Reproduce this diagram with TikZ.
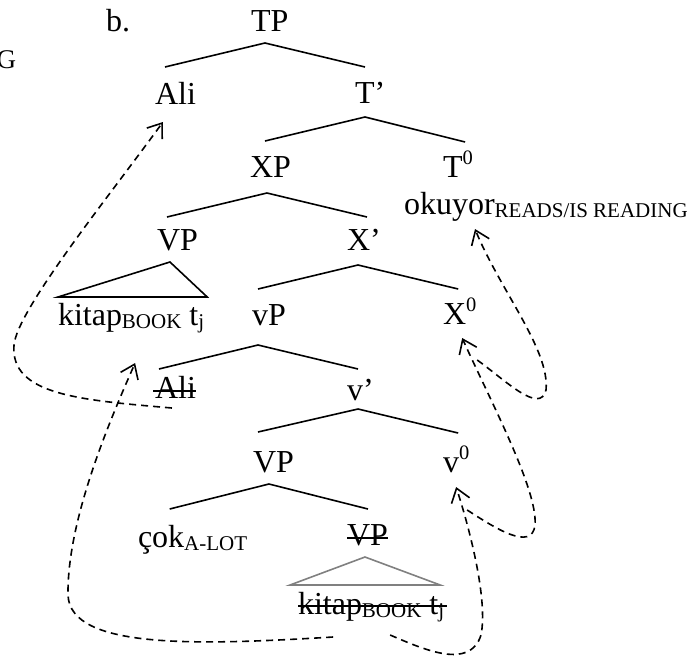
\documentclass[tikz,border=0pt]{standalone}
\usepackage{fontspec}
\setmainfont{Liberation Serif}
\usetikzlibrary{calc,arrows.meta}
\definecolor{trigray}{RGB}{128,128,128}
\newcommand{\sbs}[1]{\raisebox{-3pt}{\fontsize{21}{22}\selectfont #1}}
\newcommand{\sps}[1]{\raisebox{13pt}{\fontsize{20.5}{22}\selectfont #1}}
\begin{document}
\begin{tikzpicture}[x=1pt,y=-1pt,
  lbl/.style={inner sep=0pt, outer sep=0pt, font=\fontsize{32}{38}\selectfont, anchor=base west},
  tree/.style={line width=1.6pt},
  grtree/.style={line width=1.6pt, draw=trigray},
  strike/.style={line width=1.6pt},
  mv/.style={line width=1.6pt, dash pattern=on 7pt off 5pt, -{Straight Barb[length=13pt,width=19pt]}}]
\useasboundingbox (0,0) rectangle (698,662);

% labels
\node[lbl, anchor=base east, font=\fontsize{27}{30}\selectfont] (g) at (16,68) {G};
\node[lbl] (b) at (106,31) {b.};
\node[lbl] (tp) at (251,31) {TP};
\node[lbl] (ali) at (155,104) {Ali};
\node[lbl] (tbar) at (355,103) {T’};
\node[lbl] (xp) at (250,177) {XP};
\node[lbl] (t0) at (443,177) {T\sps{0}};
\node[lbl] (okuyor) at (404,214) {okuyor\sbs{READS/IS READING}};
\node[lbl] (vpa) at (157,250) {VP};
\node[lbl] (xbar) at (347,250) {X’};
\node[lbl] (kitap) at (58,325) {kitap\sbs{BOOK} t\sbs{j}};
\node[lbl] (svp) at (252,325) {vP};
\node[lbl] (x0) at (443,324) {X\sps{0}};
\node[lbl] (ali2) at (155,398) {Ali};
\node[lbl] (vbar) at (347,400) {v’};
\node[lbl] (vpb) at (253,472) {VP};
\node[lbl] (v0) at (443,472) {v\sps{0}};
\node[lbl] (cok) at (138,547) {çok\sbs{A-LOT}};
\node[lbl] (vps) at (347,545) {VP};
\node[lbl] (kitaps) at (298,614) {kitap\sbs{BOOK} t\sbs{j}};

% tree branches
\draw[tree] ($(ali.base)+(-10.5,-37)$) -- ($(tp.base)+(-4.7,12)$) -- ($(tbar.base)+(-5.1,-36)$);
\draw[tree] ($(xp.base)+(-5.5,-36)$) -- ($(tbar.base)+(-5.1,14)$) -- ($(t0.base)+(7.2,-35)$);
\draw[tree] ($(vpa.base)+(-10.5,-33)$) -- ($(xp.base)+(-3.5,16)$) -- ($(xbar.base)+(3.1,-33)$);
\draw[tree] ($(kitap.base west)+(0,-28)$) -- ($(vpa.base)+(-7.5,12)$) -- ($(kitap.base east)+(3,-28)$) -- cycle;
\draw[tree] ($(svp.base)+(-10.9,-36)$) -- ($(xbar.base)+(-5.9,15)$) -- ($(x0.base)+(-1.5,-35)$);
\draw[tree] ($(ali2.base)+(-16.5,-29)$) -- ($(svp.base)+(-10.9,20)$) -- ($(vbar.base)+(-2.3,-31)$);
\draw[tree] ($(vpb.base)+(-15.5,-40)$) -- ($(vbar.base)+(-2.3,9)$) -- ($(v0.base)+(2,-39)$);
\draw[tree] ($(cok.base)+(-22.9,-38)$) -- ($(vpb.base)+(-4.5,12)$) -- ($(vps.base)+(0.5,-36)$);
\draw[grtree] ($(kitaps.base west)+(-8,-29)$) -- ($(vps.base)+(-2.5,12)$) -- ($(kitaps.base east)+(-4,-29)$) -- cycle;

% strike-throughs
\draw[strike] ($(ali2.base west)+(-2,-7)$) -- ($(ali2.base east)+(0,-7)$);
\draw[strike] ($(vps.base west)+(0,-7)$) -- ($(vps.base east)+(0,-7)$);
\draw[strike] ($(kitaps.base west)+(0,-8)$) -- ($(kitaps.base east)+(3,-8)$);

% bends of the movement arrows
\coordinate (bendA) at (14,345);
\coordinate (bendB) at (68,595);
\coordinate (bendC) at (481,635);
\coordinate (bendD) at (535,525);
\coordinate (bendE) at (546,390);

% movement arrows
\draw[mv] ($(ali2.base)+(-3.5,10)$) .. controls (80,400) and (10,395) .. (bendA)
  .. controls (17,310) and (110,195) .. ($(ali.base)+(-12.5,18)$);
\draw[mv] ($(kitaps.base)+(-38,23)$) .. controls (200,645) and (70,650) .. (bendB)
  .. controls (67,520) and (110,420) .. ($(kitap.base)+(4,38)$);
\draw[mv] ($(kitaps.base)+(19,21)$) .. controls (425,650) and (470,670) .. (bendC)
  .. controls (488,600) and (470,530) .. ($(v0.base)+(0,15)$);
\draw[mv] ($(v0.base)+(11,38)$) .. controls (495,528) and (532,552) .. (bendD)
  .. controls (538,490) and (490,400) .. ($(x0.base)+(2.5,14)$);
\draw[mv] ($(x0.base)+(17.5,36)$) .. controls (505,380) and (540,415) .. (bendE)
  .. controls (550,350) and (500,290) .. ($(okuyor.base west)+(71,15)$);
\end{tikzpicture}
\end{document}
